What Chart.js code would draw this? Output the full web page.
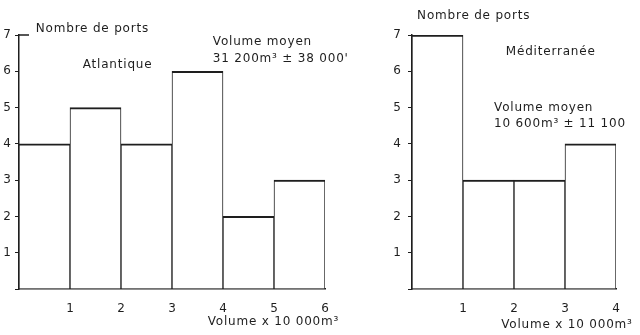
<!DOCTYPE html>
<html><head><meta charset="utf-8">
<script src="https://cdn.jsdelivr.net/npm/chart.js@4/dist/chart.umd.min.js"></script>
<style>
html,body{margin:0;padding:0;background:#fff;width:640px;height:335px;overflow:hidden}
.box{position:absolute;top:0;height:335px}
#b1{left:0;width:360px}
#b2{left:360px;width:280px}
</style></head><body>
<div class="box" id="b1"><canvas id="c1"></canvas></div>
<div class="box" id="b2"><canvas id="c2"></canvas></div>
<script>
// ---- data ----
const atlBins = [0.5, 1.5, 2.5, 3.5, 4.5, 5.5];   // bin centres, volume x 10 000 m3
const atlPorts = [4, 5, 4, 6, 2, 3];
const medBins = [0.5, 1.5, 2.5, 3.5];
const medPorts = [7, 3, 3, 4];
const portTicks = [1, 2, 3, 4, 5, 6, 7];
const atlVolTicks = [1, 2, 3, 4, 5, 6];
const medVolTicks = [1, 2, 3, 4];
const yLabel = 'Nombre de ports';
const xLabel = 'Volume x 10 000m³';
const atlNotes = ['Atlantique', 'Volume moyen', '31 200m³ ± 38 000\''];
const medNotes = ['Méditerranée', 'Volume moyen', '10 600m³ ± 11 100'];

// ---- style ----
const INK = '#1e1e1e';
const FONT = 'DejaVu Sans';

const notesPlugin = {
  id: 'notes',
  afterDraw(chart, args, opts) {
    const {ctx, scales: {x, y}} = chart;
    ctx.save();
    if (opts.hook) {
      // small horizontal mark to the right of the axis top (as in the original)
      const yp = y.getPixelForValue(y.max);
      ctx.strokeStyle = INK;
      ctx.lineWidth = 1.5;
      ctx.beginPath();
      ctx.moveTo(x.left, yp);
      ctx.lineTo(x.left + opts.hook, yp);
      ctx.stroke();
    }
    ctx.fillStyle = INK;
    ctx.font = opts.font;
    ctx.textBaseline = 'middle';
    ctx.textAlign = 'left';
    if ('letterSpacing' in ctx) ctx.letterSpacing = opts.spacing || '0px';
    (opts.items || []).forEach(it => ctx.fillText(it.text, x.getPixelForValue(it.x), y.getPixelForValue(it.y)));
    ctx.restore();
  }
};

function makeChart(id, bins, ports, volTicks, cfg) {
  return new Chart(document.getElementById(id), {
    type: 'bar',
    data: {
      datasets: [{
        data: bins.map((b, i) => ({x: b, y: ports[i]})),
        backgroundColor: '#ffffff',
        borderColor: INK,
        borderWidth: {top: 2, left: 1, right: 1, bottom: 0},
        borderSkipped: false,
        barPercentage: 1,
        categoryPercentage: 1
      }]
    },
    options: {
      responsive: true,
      maintainAspectRatio: false,
      animation: false,
      layout: {padding: {top: 35, right: cfg.padRight, bottom: 0, left: 0}},
      plugins: {
        legend: {display: false},
        tooltip: {enabled: false},
        notes: {font: '12px "' + FONT + '"', spacing: '0.8px', hook: cfg.hook, items: cfg.notes}
      },
      scales: {
        x: {
          type: 'linear',
          min: 0, max: volTicks[volTicks.length - 1],
          offset: false,
          grid: {display: false, offset: false},
          border: {display: true, color: INK, width: 1.5},
          afterBuildTicks: s => { s.ticks = [0, ...volTicks].map(v => ({value: v})); },
          afterFit: s => { s.height = 46; },
          ticks: {
            color: INK, padding: 5, maxRotation: 0,
            font: {family: FONT, size: 12},
            callback: v => v === 0 ? '' : String(v)
          }
        },
        y: {
          min: 0, max: 7,
          grid: {display: true, drawOnChartArea: false, drawTicks: true, tickLength: 4, color: INK, lineWidth: 1},
          border: {display: true, color: INK, width: 1.5},
          afterBuildTicks: s => { s.ticks = [0, ...portTicks].map(v => ({value: v})); },
          afterFit: s => { s.width = cfg.yWidth; },
          ticks: {
            color: INK, padding: cfg.yPad,
            font: {family: FONT, size: 12},
            callback: v => v === 0 ? '' : String(v)
          }
        }
      }
    },
    plugins: [notesPlugin]
  });
}

makeChart('c1', atlBins, atlPorts, atlVolTicks, {
  yWidth: 19, padRight: 35, yPad: 4, hook: 10,
  notes: [
    {text: yLabel, x: 0.33, y: 7.16},
    {text: atlNotes[0], x: 1.25, y: 6.17},
    {text: atlNotes[1], x: 3.8, y: 6.8},
    {text: atlNotes[2], x: 3.8, y: 6.34},
    {text: xLabel, x: 3.7, y: -0.91}
  ]
});

makeChart('c2', medBins, medPorts, medVolTicks, {
  yWidth: 52, padRight: 24, yPad: 7, hook: 0,
  notes: [
    {text: yLabel, x: 0.1, y: 7.52},
    {text: medNotes[0], x: 1.84, y: 6.53},
    {text: medNotes[1], x: 1.61, y: 4.99},
    {text: medNotes[2], x: 1.61, y: 4.55},
    {text: xLabel, x: 1.75, y: -0.99}
  ]
});
</script>
</body></html>
